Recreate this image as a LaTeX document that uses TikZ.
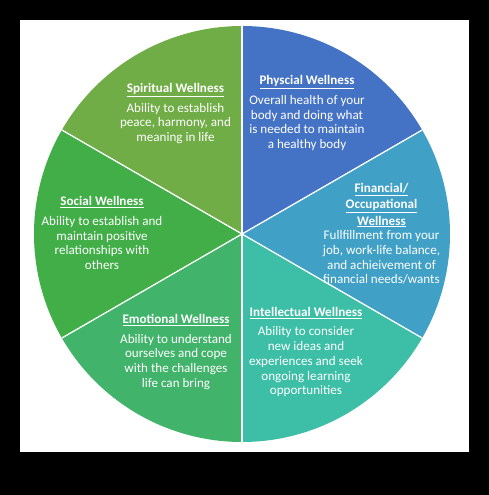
\documentclass[tikz,border=0pt]{standalone}
\usepackage{fontspec}
\setmainfont{Carlito}
\definecolor{cphys}{HTML}{4472C4}
\definecolor{cfin}{HTML}{40A0C6}
\definecolor{cint}{HTML}{3CBFA6}
\definecolor{cemo}{HTML}{42B36A}
\definecolor{csoc}{HTML}{41AE47}
\definecolor{cspi}{HTML}{70AD47}
\newcommand{\ttl}[1]{\textbf{\underline{#1}}}
\begin{document}
\begin{tikzpicture}[x=1pt,y=1pt,
  lbl/.style={text=white,align=center,inner sep=0pt,font=\fontsize{13.1}{14.7}\selectfont},
  divider/.style={draw=white,line width=1.3pt}]
\fill[black] (0,0) rectangle (489,-495);
\fill[white] (20,-20) rectangle (469,-452);
\useasboundingbox (0,0) rectangle (489,-495);
\coordinate (c) at (242,-234);
\def\R{208}
\fill[cphys] (c) -- ++(30:\R) arc (30:90:\R) -- cycle;
\fill[cfin] (c) -- ++(-30:\R) arc (-30:30:\R) -- cycle;
\fill[cint] (c) -- ++(-90:\R) arc (-90:-30:\R) -- cycle;
\fill[cemo] (c) -- ++(210:\R) arc (210:270:\R) -- cycle;
\fill[csoc] (c) -- ++(150:\R) arc (150:210:\R) -- cycle;
\fill[cspi] (c) -- ++(90:\R) arc (90:150:\R) -- cycle;
\foreach \a in {30,90,150,210,270,330} \draw[divider] (c) -- ++(\a:\R);
\node[lbl] (phys) at (307,-113) {\ttl{Physcial Wellness}\\[5pt]Overall health of your\\body and doing what\\is needed to maintain\\a healthy body};
\node[lbl] (spi) at (175.5,-113.5) {\ttl{Spiritual Wellness}\\[5pt]Ability to establish\\peace, harmony, and\\meaning in life};
\node[lbl] (fin) at (381.5,-234) {\ttl{Financial/}\\[1.5pt]\ttl{Occupational}\\[1.5pt]\ttl{Wellness}\\Fullfillment from your\\job, work-life balance,\\and achieivement of\\financial needs/wants};
\node[lbl] (soc) at (102,-233) {\ttl{Social Wellness}\\[5pt]Ability to establish and\\maintain positive\\relationships with\\others};
\node[lbl] (emo) at (176,-352) {\ttl{Emotional Wellness}\\[5pt]Ability to understand\\ourselves and cope\\with the challenges\\life can bring};
\node[lbl] (int) at (306,-352) {\ttl{Intellectual Wellness}\\[5pt]Ability to consider\\new ideas and\\experiences and seek\\ongoing learning\\opportunities};
\end{tikzpicture}
\end{document}
